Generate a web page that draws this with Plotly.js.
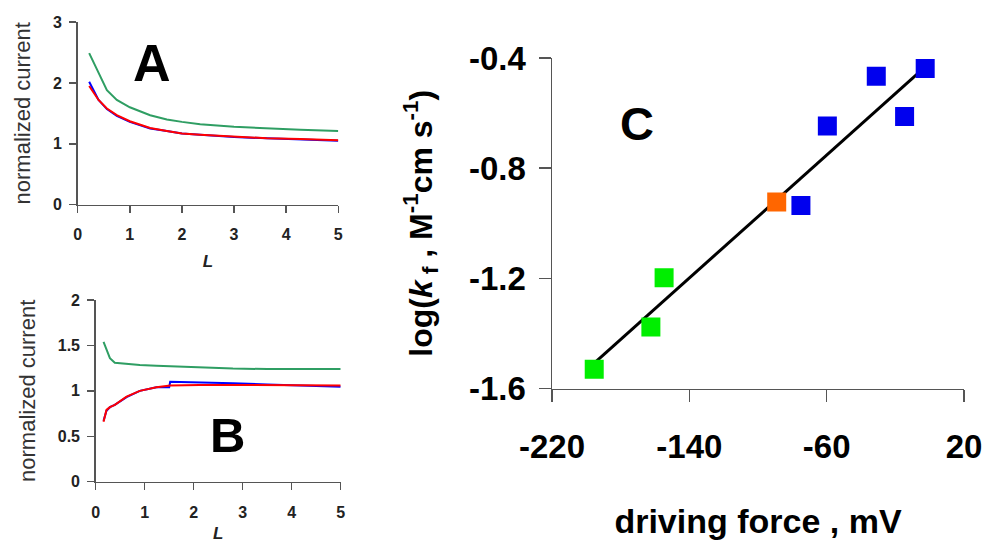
<!DOCTYPE html>
<html>
<head>
<meta charset="utf-8">
<script src="https://cdn.plot.ly/plotly-3.0.1.min.js"></script>
<style>html,body{margin:0;padding:0;background:#fff;}#chart{width:984px;height:543px;}</style>
</head>
<body>
<div id="chart"></div>
<script>
// Panel A: normalized current vs L
const aX     = [0.22, 0.40, 0.56, 0.75, 1.00, 1.39, 1.71, 2.00, 2.35, 3.00, 3.63, 4.27, 5.00];
const aGreen = [2.49, 2.18, 1.88, 1.72, 1.60, 1.47, 1.40, 1.36, 1.32, 1.28, 1.25, 1.23, 1.21];
const aBlue  = [2.02, 1.72, 1.57, 1.46, 1.36, 1.25, 1.21, 1.17, 1.15, 1.11, 1.09, 1.07, 1.05];
const aRed   = [1.95, 1.72, 1.58, 1.47, 1.37, 1.26, 1.21, 1.17, 1.15, 1.12, 1.09, 1.08, 1.06];

// Panel B: normalized current vs L
const bX     = [0.16, 0.22, 0.29, 0.39, 0.63, 0.90, 1.24, 1.50, 1.52, 2.12, 2.80, 3.50, 4.20, 5.00];
const bGreen = [1.54, 1.45, 1.36, 1.31, 1.295, 1.285, 1.275, 1.27, 1.27, 1.26, 1.245, 1.24, 1.24, 1.24];
const bBlue  = [0.67, 0.78, 0.82, 0.845, 0.93, 1.00, 1.04, 1.04, 1.10, 1.095, 1.085, 1.07, 1.06, 1.045];
const bRed   = [0.66, 0.79, 0.82, 0.845, 0.936, 1.00, 1.04, 1.055, 1.06, 1.065, 1.065, 1.065, 1.062, 1.06];

// Panel C: log(kf) vs driving force
const greenDF = [-195.4, -162.4, -154.7];
const greenK  = [-1.530, -1.377, -1.198];
const orangeDF = [-89.1];
const orangeK  = [-0.923];
const blueDF = [-75.0, -59.6, -31.1, -14.6, -2.6];
const blueK  = [-0.936, -0.647, -0.466, -0.612, -0.438];
const fitDF = [-195.4, -2.6];
const fitK  = [-1.508, -0.432];

// Tick labels of panel C (plain hyphen minus as in the original)
const dfTickVals = [-220, -140, -60, 20];
const dfTickText = ['-220', '-140', '-60', '20'];
const kTickVals  = [-1.6, -1.2, -0.8, -0.4];
const kTickText  = ['-1.6', '-1.2', '-0.8', '-0.4'];

const FONT = 'Liberation Sans, Arial, sans-serif';
const W = 984, H = 543;
const px = v => v / W;
const py = v => 1 - v / H;

const traces = [
  {x: aX, y: aGreen, xaxis: 'x', yaxis: 'y', mode: 'lines', line: {color: '#2f9e63', width: 2}},
  {x: aX, y: aBlue,  xaxis: 'x', yaxis: 'y', mode: 'lines', line: {color: '#0000ff', width: 2}},
  {x: aX, y: aRed,   xaxis: 'x', yaxis: 'y', mode: 'lines', line: {color: '#ff0000', width: 2}},
  {x: bX, y: bGreen, xaxis: 'x2', yaxis: 'y2', mode: 'lines', line: {color: '#2f9e63', width: 2}},
  {x: bX, y: bBlue,  xaxis: 'x2', yaxis: 'y2', mode: 'lines', line: {color: '#0000ff', width: 2}},
  {x: bX, y: bRed,   xaxis: 'x2', yaxis: 'y2', mode: 'lines', line: {color: '#ff0000', width: 2}},
  {x: fitDF, y: fitK, xaxis: 'x3', yaxis: 'y3', mode: 'lines', line: {color: '#000000', width: 3}},
  {x: greenDF, y: greenK, xaxis: 'x3', yaxis: 'y3', mode: 'markers', marker: {symbol: 'square', size: 19, color: '#00ee00'}},
  {x: orangeDF, y: orangeK, xaxis: 'x3', yaxis: 'y3', mode: 'markers', marker: {symbol: 'square', size: 19, color: '#ff6600'}},
  {x: blueDF, y: blueK, xaxis: 'x3', yaxis: 'y3', mode: 'markers', marker: {symbol: 'square', size: 19, color: '#0000ee'}}
];

const smallAxis = {
  showline: true, linecolor: '#555', linewidth: 1.5,
  ticks: 'outside', ticklen: 7, tickcolor: '#555', tickwidth: 1.5,
  showgrid: false, zeroline: false,
  tickfont: {family: FONT, size: 16, color: '#222', weight: 'bold'}
};
const bigAxis = {
  showline: true, linecolor: '#555', linewidth: 1.5,
  ticks: 'outside', ticklen: 12, tickcolor: '#555', tickwidth: 1.5,
  showgrid: false, zeroline: false,
  tickfont: {family: FONT, size: 33, color: '#000', weight: 'bold'}
};

const layout = {
  width: W, height: H,
  margin: {l: 0, r: 0, t: 0, b: 0},
  paper_bgcolor: '#fff', plot_bgcolor: 'rgba(0,0,0,0)',
  showlegend: false,
  font: {family: FONT},
  xaxis: Object.assign({}, smallAxis, {
    domain: [px(77.7), px(338.3)], range: [0, 5], dtick: 1, anchor: 'y',
    ticklabelstandoff: 8,
    title: {text: '<i><b>L</b></i>', font: {family: FONT, size: 17, color: '#222'}, standoff: 12}
  }),
  yaxis: Object.assign({}, smallAxis, {
    domain: [py(204.7), py(22)], range: [0, 3], dtick: 1, anchor: 'x',
    ticklabelstandoff: 4,
    title: {text: 'normalized current', font: {family: FONT, size: 22, color: '#333'}, standoff: 16}
  }),
  xaxis2: Object.assign({}, smallAxis, {
    domain: [px(95.7), px(340.7)], range: [0, 5], dtick: 1, anchor: 'y2',
    ticklabelstandoff: 9,
    title: {text: '<i><b>L</b></i>', font: {family: FONT, size: 17, color: '#222'}, standoff: 14}
  }),
  yaxis2: Object.assign({}, smallAxis, {
    domain: [py(481.7), py(300)], range: [0, 2], dtick: 0.5, anchor: 'x2',
    ticklabelstandoff: 4,
    title: {text: 'normalized current', font: {family: FONT, size: 22, color: '#333'}, standoff: 16}
  }),
  xaxis3: Object.assign({}, bigAxis, {
    domain: [px(552), px(964)], range: [-220, 20], tickmode: 'array',
    tickvals: dfTickVals, ticktext: dfTickText, anchor: 'y3',
    ticklabelstandoff: 16,
    title: {text: '<b>driving force , mV</b>', font: {family: FONT, size: 34, color: '#000'}, standoff: 45}
  }),
  yaxis3: Object.assign({}, bigAxis, {
    domain: [py(388.5), py(58)], range: [-1.6, -0.4], tickmode: 'array',
    tickvals: kTickVals, ticktext: kTickText, anchor: 'x3',
    ticklabelstandoff: 6,
    title: {text: '<b>log(<i>k</i><sub> f</sub> , M<sup>-1</sup>cm s<sup>-1</sup>)</b>', font: {family: FONT, size: 32, color: '#000'}, standoff: 27}
  }),
  annotations: [
    {text: '<b>A</b>', xref: 'paper', yref: 'paper', x: px(152), y: py(63), showarrow: false, xanchor: 'center', yanchor: 'middle', font: {family: FONT, size: 52, color: '#000'}},
    {text: '<b>B</b>', xref: 'paper', yref: 'paper', x: px(227), y: py(435), showarrow: false, xanchor: 'center', yanchor: 'middle', font: {family: FONT, size: 49, color: '#000'}},
    {text: '<b>C</b>', xref: 'paper', yref: 'paper', x: px(637), y: py(124), showarrow: false, xanchor: 'center', yanchor: 'middle', font: {family: FONT, size: 47, color: '#000'}}
  ]
};

Plotly.newPlot('chart', traces, layout, {displayModeBar: false, staticPlot: true});
</script>
</body>
</html>
